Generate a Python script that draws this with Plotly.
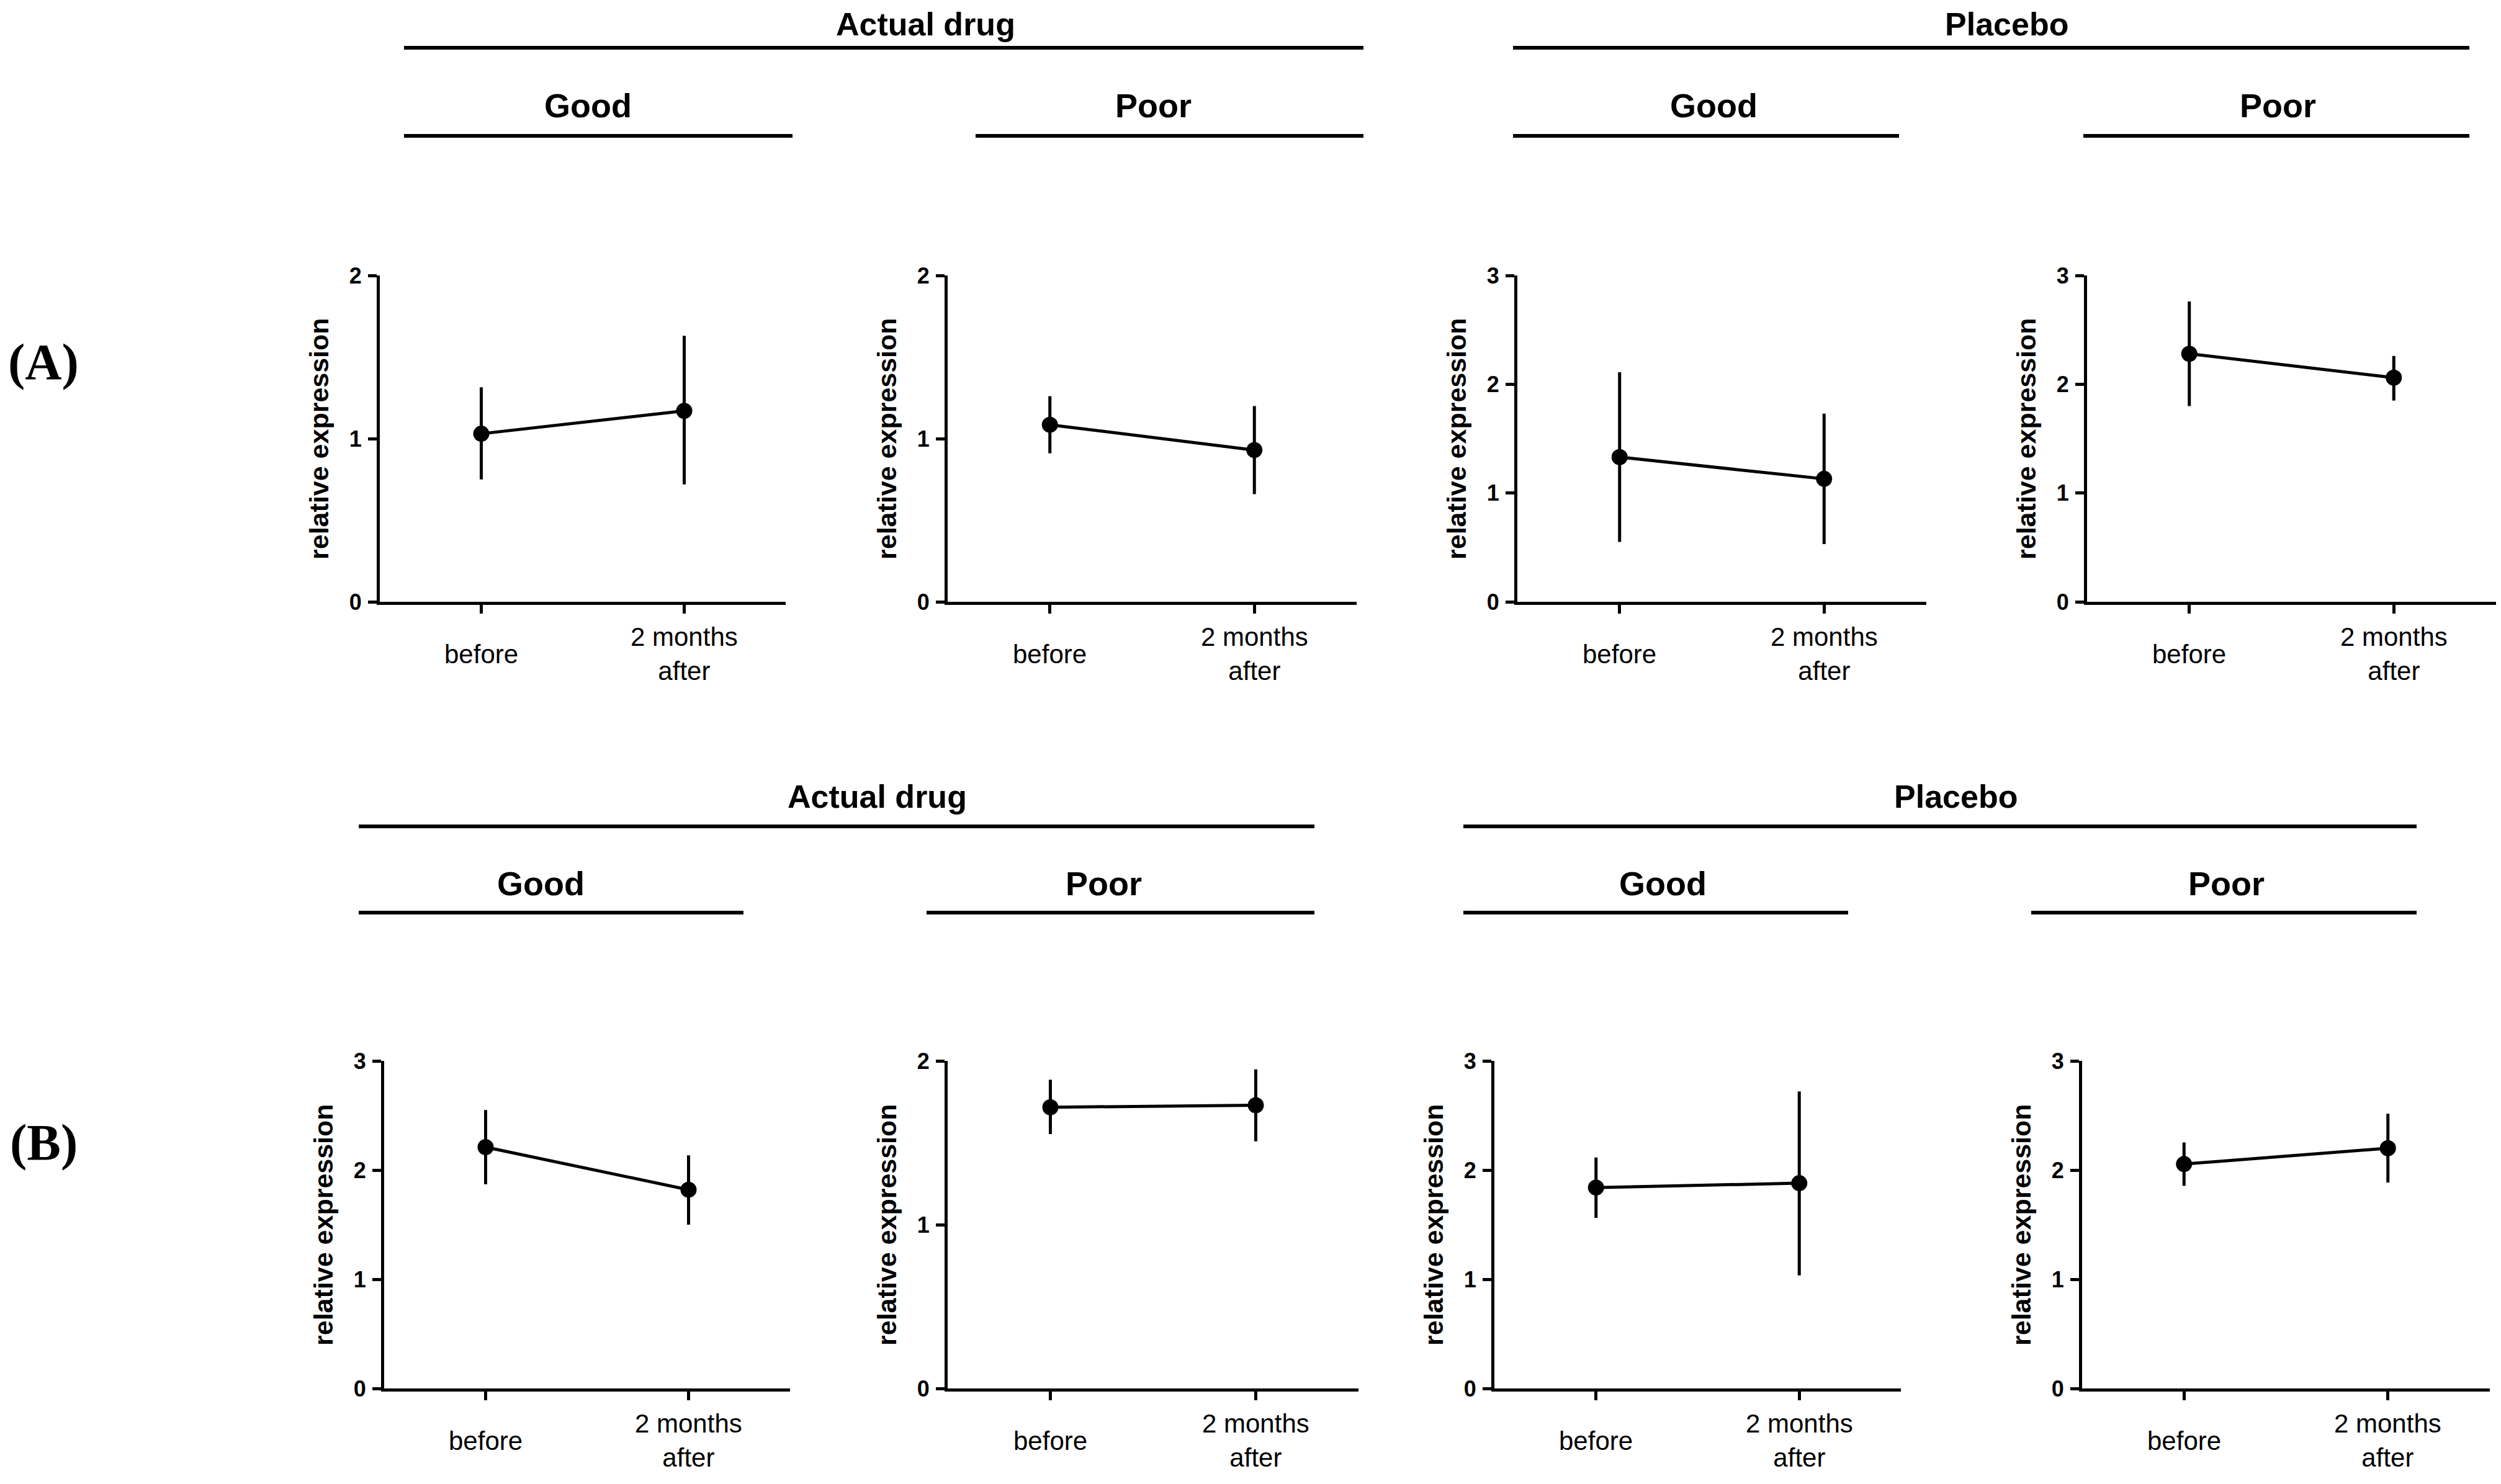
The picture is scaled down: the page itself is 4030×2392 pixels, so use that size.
import plotly.graph_objects as go

W, H = 4030, 2392
# the page puts the figure a few pixels in from the top-left corner
PAGE_DX = 8
PAGE_DY = 8

categories = ["before", "2 months<br>after"]
group_labels = ["Actual drug", "Placebo"]
response_labels = ["Good", "Poor"]
panel_labels = ["(A)", "(B)"]
y_title = "relative expression"

# panel order: drug/good, drug/poor, placebo/good, placebo/poor
ymax_A = [2, 2, 3, 3]
mean_A = [[1.03, 1.17], [1.085, 0.93], [1.33, 1.13], [2.28, 2.06]]
upper_A = [[1.315, 1.63], [1.26, 1.20], [2.11, 1.73], [2.76, 2.26]]
lower_A = [[0.75, 0.72], [0.91, 0.66], [0.55, 0.53], [1.80, 1.85]]

ymax_B = [3, 2, 3, 3]
mean_B = [[2.21, 1.82], [1.717, 1.729], [1.84, 1.88], [2.055, 2.20]]
upper_B = [[2.55, 2.135], [1.885, 1.948], [2.115, 2.72], [2.253, 2.516]]
lower_B = [[1.87, 1.50], [1.553, 1.509], [1.562, 1.036], [1.856, 1.886]]


def fx(px):
    return (px - PAGE_DX) / W


def fy(py):
    return 1 - (py - PAGE_DY) / H


# layout in pixels of the original figure
rows = [
    dict(top=444, bottom=970, x=[(612, 1266), (1527, 2186), (2445, 3104), (3363, 4022)],
         group_y=None, group_line=77, groups=[(1491, 651, 2197), (3233, 2438, 3979)],
         resp_y=170, resp_line=219,
         resps=[(947, 651, 1277), (1858, 1572, 2197), (2761, 2438, 3060), (3670, 3357, 3979)],
         label_y=583),
    dict(top=1710, bottom=2238, x=[(619, 1273), (1527, 2189), (2408, 3063), (3355, 4012)],
         group_y=1284, group_line=1332, groups=[(1413, 578, 2118), (3151, 2358, 3894)],
         resp_y=1424, resp_line=1471,
         resps=[(871, 578, 1198), (1778, 1493, 2118), (2679, 2358, 2978), (3587, 3273, 3894)],
         label_y=1841),
]
data_rows = [(ymax_A, mean_A, upper_A, lower_A), (ymax_B, mean_B, upper_B, lower_B)]

SANS = "Liberation Sans, Arial, sans-serif"

fig = go.Figure()
annotations = []
shapes = []
n = 0
for r, row in enumerate(rows):
    ymax, mean, upper, lower = data_rows[r]
    for p in range(4):
        n += 1
        xa = "x" if n == 1 else f"x{n}"
        ya = "y" if n == 1 else f"y{n}"
        m = mean[p]
        fig.add_trace(go.Scatter(
            x=[0, 1], y=m, xaxis=xa, yaxis=ya, mode="lines+markers",
            line=dict(color="black", width=5),
            marker=dict(color="black", size=26),
            error_y=dict(type="data", symmetric=False,
                         array=[u - v for u, v in zip(upper[p], m)],
                         arrayminus=[v - l for v, l in zip(m, lower[p])],
                         color="black", thickness=5, width=0),
            cliponaxis=False, showlegend=False))
        x0, x1 = row["x"][p]
        ax = dict(domain=[fx(x0), fx(x1)], range=[-0.5, 1.5], tickvals=[0, 1],
                  showticklabels=False, ticks="outside", ticklen=14, tickwidth=5,
                  tickcolor="black", showline=True, linewidth=5, linecolor="black",
                  showgrid=False, zeroline=False, anchor=ya, automargin=False)
        ay = dict(domain=[fy(row["bottom"]), fy(row["top"])], range=[0, ymax[p]],
                  tickvals=list(range(ymax[p] + 1)), ticks="outside", ticklen=14,
                  tickwidth=5, tickcolor="black", showline=True, linewidth=5,
                  linecolor="black", showgrid=False, zeroline=False, anchor=xa,
                  tickfont=dict(family=SANS, size=36, color="black", weight="bold"),
                  ticklabelstandoff=3, automargin=False)
        fig.update_layout(**{("xaxis" if n == 1 else f"xaxis{n}"): ax,
                             ("yaxis" if n == 1 else f"yaxis{n}"): ay})
        for i, c in enumerate(categories):
            annotations.append(dict(x=i, y=0, xref=xa, yref=ya, text=c, showarrow=False,
                                    yshift=-84, yanchor="middle", xanchor="center",
                                    font=dict(family=SANS, size=42, color="black")))
        annotations.append(dict(x=0, y=0.5, xref=f"{xa} domain", yref=f"{ya} domain",
                                text=f"<b>{y_title}</b>", textangle=-90, showarrow=False,
                                xshift=-98, xanchor="center", yanchor="middle",
                                font=dict(family=SANS, size=43, color="black")))

    for g, (cx, l0, l1) in enumerate(row["groups"]):
        if row["group_y"] is None:
            # top row: keep the label box inside the figure
            gy, ganchor = 1, "top"
        else:
            gy, ganchor = fy(row["group_y"]), "middle"
        annotations.append(dict(x=fx(cx), y=gy, xref="paper", yref="paper",
                                text=f"<b>{group_labels[g]}</b>", showarrow=False,
                                xanchor="center", yanchor=ganchor,
                                font=dict(family=SANS, size=52, color="black")))
        shapes.append(dict(type="line", xref="paper", yref="paper", x0=fx(l0), x1=fx(l1),
                           y0=fy(row["group_line"]), y1=fy(row["group_line"]),
                           line=dict(color="black", width=6)))
    for k, (cx, l0, l1) in enumerate(row["resps"]):
        annotations.append(dict(x=fx(cx), y=fy(row["resp_y"]), xref="paper", yref="paper",
                                text=f"<b>{response_labels[k % 2]}</b>", showarrow=False,
                                xanchor="center", yanchor="middle",
                                font=dict(family=SANS, size=54, color="black")))
        shapes.append(dict(type="line", xref="paper", yref="paper", x0=fx(l0), x1=fx(l1),
                           y0=fy(row["resp_line"]), y1=fy(row["resp_line"]),
                           line=dict(color="black", width=6)))
    annotations.append(dict(x=fx(70), y=fy(row["label_y"]), xref="paper", yref="paper",
                            text=f"<b>{panel_labels[r]}</b>", showarrow=False,
                            xanchor="center", yanchor="middle",
                            font=dict(family="Liberation Serif, Times New Roman, serif",
                                      size=82, color="black")))

fig.update_layout(width=W, height=H, margin=dict(l=0, r=0, t=0, b=0, autoexpand=False),
                  paper_bgcolor="white", plot_bgcolor="white",
                  annotations=annotations, shapes=shapes, showlegend=False)

fig.write_html("out.html")
